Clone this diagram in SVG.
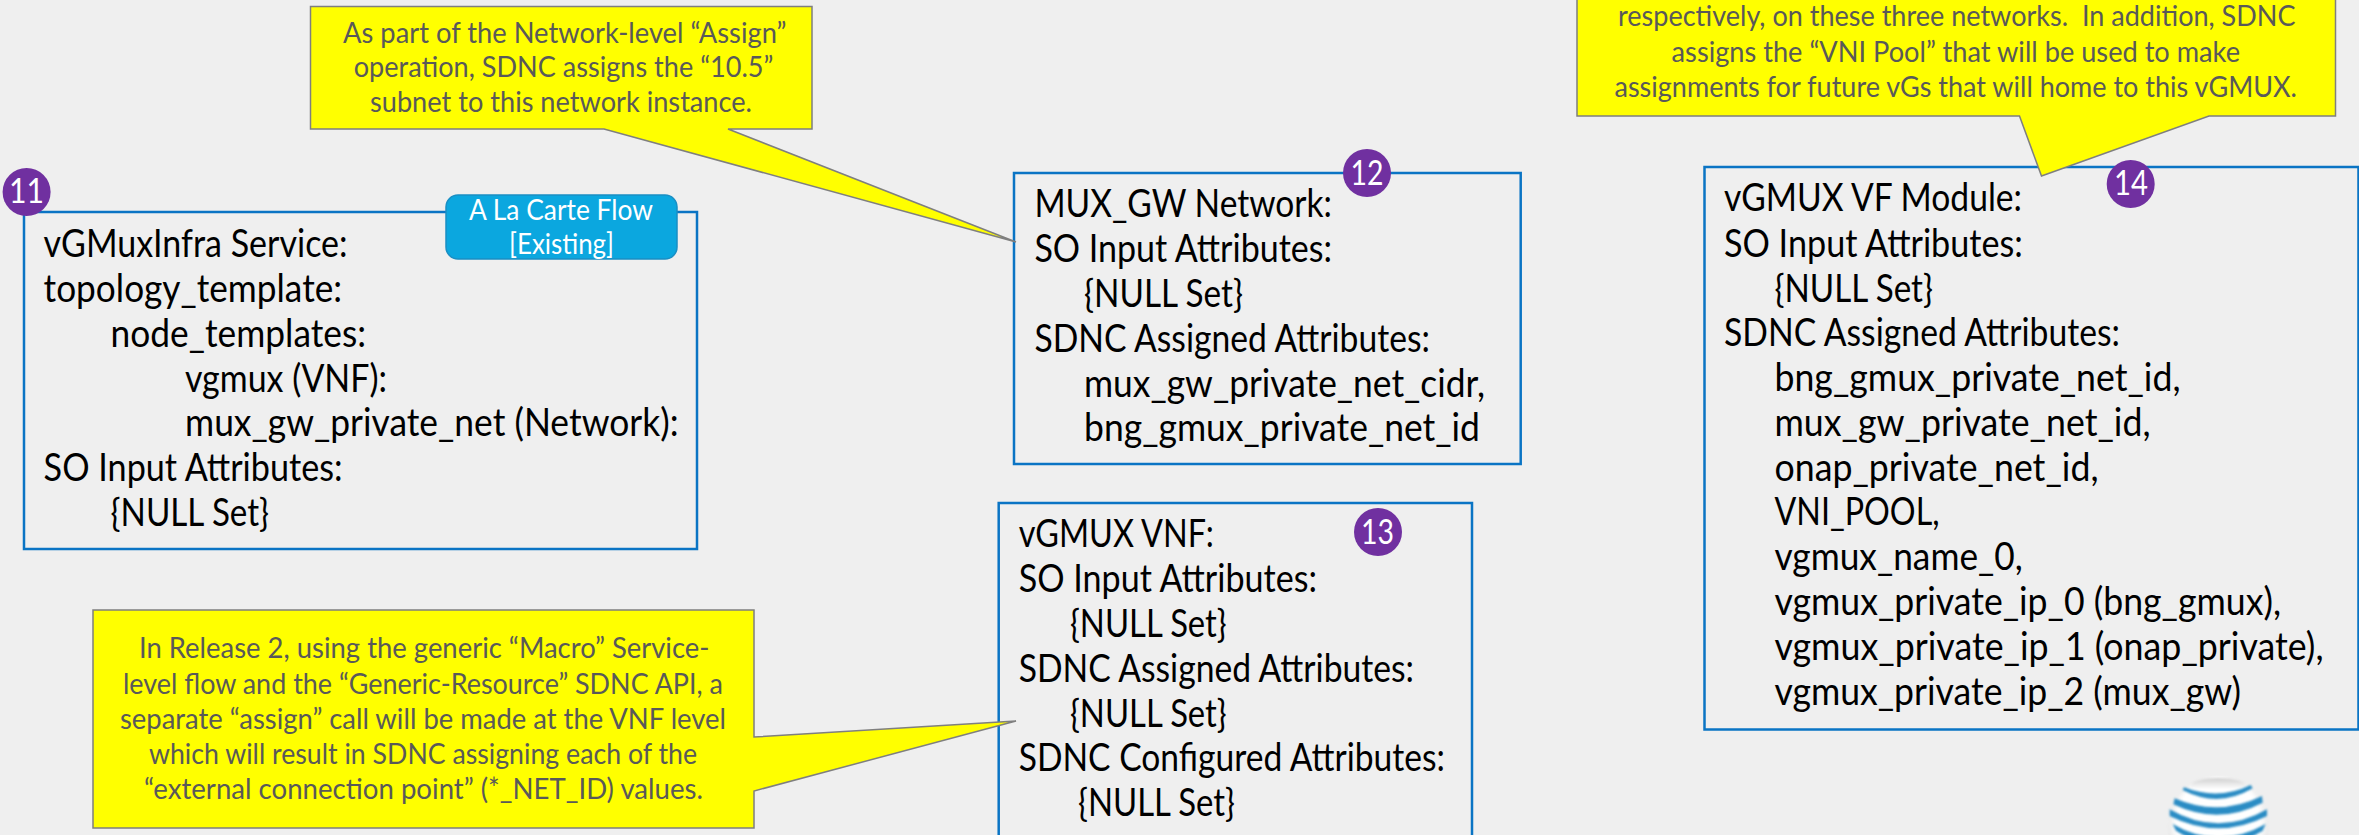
<svg xmlns="http://www.w3.org/2000/svg" width="2359" height="835" viewBox="0 0 2359 835">
<style>
text{font-family:"Lato","Noto Sans","Liberation Sans",sans-serif}
.box{fill:#EFEFEF;stroke:#0A74C4;stroke-width:2.5}
.b{font-size:38px;fill:#000}
.c{font-size:29.5px;fill:#595959}
.call{fill:#FFFF00;stroke:#7F7F7F;stroke-width:1.5;stroke-linejoin:miter}
.dot{fill:#7030A0}
.n{font-size:35px;fill:#fff}
.tag{fill:#0BA7DF;stroke:#1A8FC4;stroke-width:1.5}
.t{font-size:29.5px;fill:#fff}
</style>
<defs>
<filter id="soft" x="-5%" y="-5%" width="110%" height="110%"><feGaussianBlur stdDeviation="2.4"/></filter>
<radialGradient id="ball" cx="0.5" cy="0.45" r="0.6"><stop offset="0.7" stop-color="#ffffff"/><stop offset="1" stop-color="#d0d0d0"/></radialGradient>
<linearGradient id="cap" x1="0" y1="0" x2="0" y2="1"><stop offset="0" stop-color="#cfcfcf"/><stop offset="0.7" stop-color="#ffffff"/></linearGradient>
</defs>
<rect width="2359" height="835" fill="#EFEFEF"/>

<g id="node-11">
<rect class="box" x="24" y="212" width="673" height="337"/>
<text class="b" x="43.6" y="257" textLength="304" lengthAdjust="spacingAndGlyphs">vGMuxInfra Service:</text>
<text class="b" x="43.6" y="302" textLength="298.5" lengthAdjust="spacingAndGlyphs">topology_template:</text>
<text class="b" x="110.6" y="347" textLength="255.5" lengthAdjust="spacingAndGlyphs">node_templates:</text>
<text class="b" x="185" y="392" textLength="202" lengthAdjust="spacingAndGlyphs">vgmux (VNF):</text>
<text class="b" x="185" y="436" textLength="493.5" lengthAdjust="spacingAndGlyphs">mux_gw_private_net (Network):</text>
<text class="b" x="43.6" y="481" textLength="299" lengthAdjust="spacingAndGlyphs">SO Input Attributes:</text>
<text class="b" x="110.6" y="526" textLength="158.5" lengthAdjust="spacingAndGlyphs">{NULL Set}</text>
<circle class="dot" cx="26.6" cy="192" r="24"/>
<text class="n" x="9" y="203" textLength="35" lengthAdjust="spacingAndGlyphs">11</text>
</g>

<g id="tag-flow">
<rect class="tag" x="446" y="195" width="231" height="64" rx="12" ry="12"/>
<text class="t" x="469" y="220" textLength="184" lengthAdjust="spacingAndGlyphs">A La Carte Flow</text>
<text class="t" x="509" y="254" textLength="105" lengthAdjust="spacingAndGlyphs">[Existing]</text>
</g>

<g id="node-12">
<rect class="box" x="1014" y="173" width="506.7" height="291"/>
<text class="b" x="1034.4" y="217" textLength="297.6" lengthAdjust="spacingAndGlyphs">MUX_GW Network:</text>
<text class="b" x="1034.4" y="262" textLength="297.6" lengthAdjust="spacingAndGlyphs">SO Input Attributes:</text>
<text class="b" x="1084" y="307" textLength="159" lengthAdjust="spacingAndGlyphs">{NULL Set}</text>
<text class="b" x="1034.4" y="352" textLength="395.6" lengthAdjust="spacingAndGlyphs">SDNC Assigned Attributes:</text>
<text class="b" x="1084" y="397" textLength="401" lengthAdjust="spacingAndGlyphs">mux_gw_private_net_cidr,</text>
<text class="b" x="1084" y="441" textLength="396" lengthAdjust="spacingAndGlyphs">bng_gmux_private_net_id</text>
<circle class="dot" cx="1367" cy="173" r="24"/>
<text class="n" x="1350.5" y="185" textLength="33" lengthAdjust="spacingAndGlyphs">12</text>
</g>

<g id="node-13">
<rect class="box" x="998.7" y="503" width="473.3" height="360"/>
<text class="b" x="1018.7" y="547" textLength="195.3" lengthAdjust="spacingAndGlyphs">vGMUX VNF:</text>
<text class="b" x="1018.7" y="592" textLength="298.3" lengthAdjust="spacingAndGlyphs">SO Input Attributes:</text>
<text class="b" x="1070" y="637" textLength="156.7" lengthAdjust="spacingAndGlyphs">{NULL Set}</text>
<text class="b" x="1018.7" y="682" textLength="395.3" lengthAdjust="spacingAndGlyphs">SDNC Assigned Attributes:</text>
<text class="b" x="1070" y="727" textLength="156.7" lengthAdjust="spacingAndGlyphs">{NULL Set}</text>
<text class="b" x="1018.7" y="771" textLength="426.3" lengthAdjust="spacingAndGlyphs">SDNC Configured Attributes:</text>
<text class="b" x="1078" y="816" textLength="157" lengthAdjust="spacingAndGlyphs">{NULL Set}</text>
<circle class="dot" cx="1378" cy="532" r="24"/>
<text class="n" x="1361" y="544" textLength="33" lengthAdjust="spacingAndGlyphs">13</text>
</g>

<g id="node-14">
<rect class="box" x="1704.5" y="167" width="654" height="562.5"/>
<text class="b" x="1724" y="211" textLength="298" lengthAdjust="spacingAndGlyphs">vGMUX VF Module:</text>
<text class="b" x="1724" y="256.5" textLength="298.8" lengthAdjust="spacingAndGlyphs">SO Input Attributes:</text>
<text class="b" x="1774.5" y="301.5" textLength="158.5" lengthAdjust="spacingAndGlyphs">{NULL Set}</text>
<text class="b" x="1724" y="345.5" textLength="396" lengthAdjust="spacingAndGlyphs">SDNC Assigned Attributes:</text>
<text class="b" x="1774.5" y="391" textLength="406" lengthAdjust="spacingAndGlyphs">bng_gmux_private_net_id,</text>
<text class="b" x="1774.5" y="435.5" textLength="376" lengthAdjust="spacingAndGlyphs">mux_gw_private_net_id,</text>
<text class="b" x="1774.5" y="481" textLength="324" lengthAdjust="spacingAndGlyphs">onap_private_net_id,</text>
<text class="b" x="1774.5" y="525" textLength="165" lengthAdjust="spacingAndGlyphs">VNI_POOL,</text>
<text class="b" x="1774.5" y="570" textLength="248.3" lengthAdjust="spacingAndGlyphs">vgmux_name_0,</text>
<text class="b" x="1774.5" y="615" textLength="506.5" lengthAdjust="spacingAndGlyphs">vgmux_private_ip_0 (bng_gmux),</text>
<text class="b" x="1774.5" y="660" textLength="549" lengthAdjust="spacingAndGlyphs">vgmux_private_ip_1 (onap_private),</text>
<text class="b" x="1774.5" y="705" textLength="466.5" lengthAdjust="spacingAndGlyphs">vgmux_private_ip_2 (mux_gw)</text>
<circle class="dot" cx="2130.7" cy="184" r="24"/>
<text class="n" x="2114" y="195" textLength="34" lengthAdjust="spacingAndGlyphs">14</text>
</g>

<g id="callout-network">
<path class="call" d="M310.5 6.5H812V129H728L1016 242L604 129H310.5Z"/>
<text class="c" x="343" y="43" textLength="443.5" lengthAdjust="spacingAndGlyphs">As part of the Network-level “Assign”</text>
<text class="c" x="353.7" y="77" textLength="419.8" lengthAdjust="spacingAndGlyphs">operation, SDNC assigns the “10.5”</text>
<text class="c" x="370" y="112" textLength="382" lengthAdjust="spacingAndGlyphs">subnet to this network instance.</text>
</g>

<g id="callout-vnf">
<path class="call" d="M93 610H754V737L1016 721L754 791V828H93Z"/>
<text class="c" x="139" y="658" textLength="570.5" lengthAdjust="spacingAndGlyphs">In Release 2, using the generic “Macro” Service-</text>
<text class="c" x="123" y="694" textLength="600" lengthAdjust="spacingAndGlyphs">level flow and the “Generic-Resource” SDNC API, a</text>
<text class="c" x="120" y="729" textLength="606" lengthAdjust="spacingAndGlyphs">separate “assign” call will be made at the VNF level</text>
<text class="c" x="149" y="764" textLength="548" lengthAdjust="spacingAndGlyphs">which will result in SDNC assigning each of the</text>
<text class="c" x="144" y="799" textLength="559" lengthAdjust="spacingAndGlyphs">“external connection point” (*_NET_ID) values.</text>
</g>

<g id="callout-module">
<path class="call" d="M1577 -5H2335.5V116H2209L2041.5 176L2019.5 116H1577Z"/>
<text class="c" x="1618" y="26" textLength="677.5" lengthAdjust="spacingAndGlyphs" xml:space="preserve">respectively, on these three networks.  In addition, SDNC</text>
<text class="c" x="1671.6" y="62" textLength="568.4" lengthAdjust="spacingAndGlyphs">assigns the “VNI Pool” that will be used to make</text>
<text class="c" x="1614.5" y="97" textLength="682.5" lengthAdjust="spacingAndGlyphs">assignments for future vGs that will home to this vGMUX.</text>
</g>

<g id="logo" transform="translate(2100 740) scale(.3333)">
<ellipse cx="355" cy="262" rx="150" ry="152" fill="url(#ball)" filter="url(#soft)"/>
<ellipse cx="355" cy="138" rx="85" ry="24" fill="url(#cap)" filter="url(#soft)"/>
<g fill="#2A8CC4" filter="url(#soft)">
<path d="M252 142Q355 182 452 135L458 145Q355 206 248 150Z"/>
<path d="M224 175Q355 232 486 168L488 188Q355 258 220 193Z"/>
<path d="M209 208Q355 292 501 208L501 228Q355 302 209 228Z"/>
<path d="M218 252Q355 332 497 252L488 272Q355 356 228 272Z"/>
</g>
</g>
</svg>
